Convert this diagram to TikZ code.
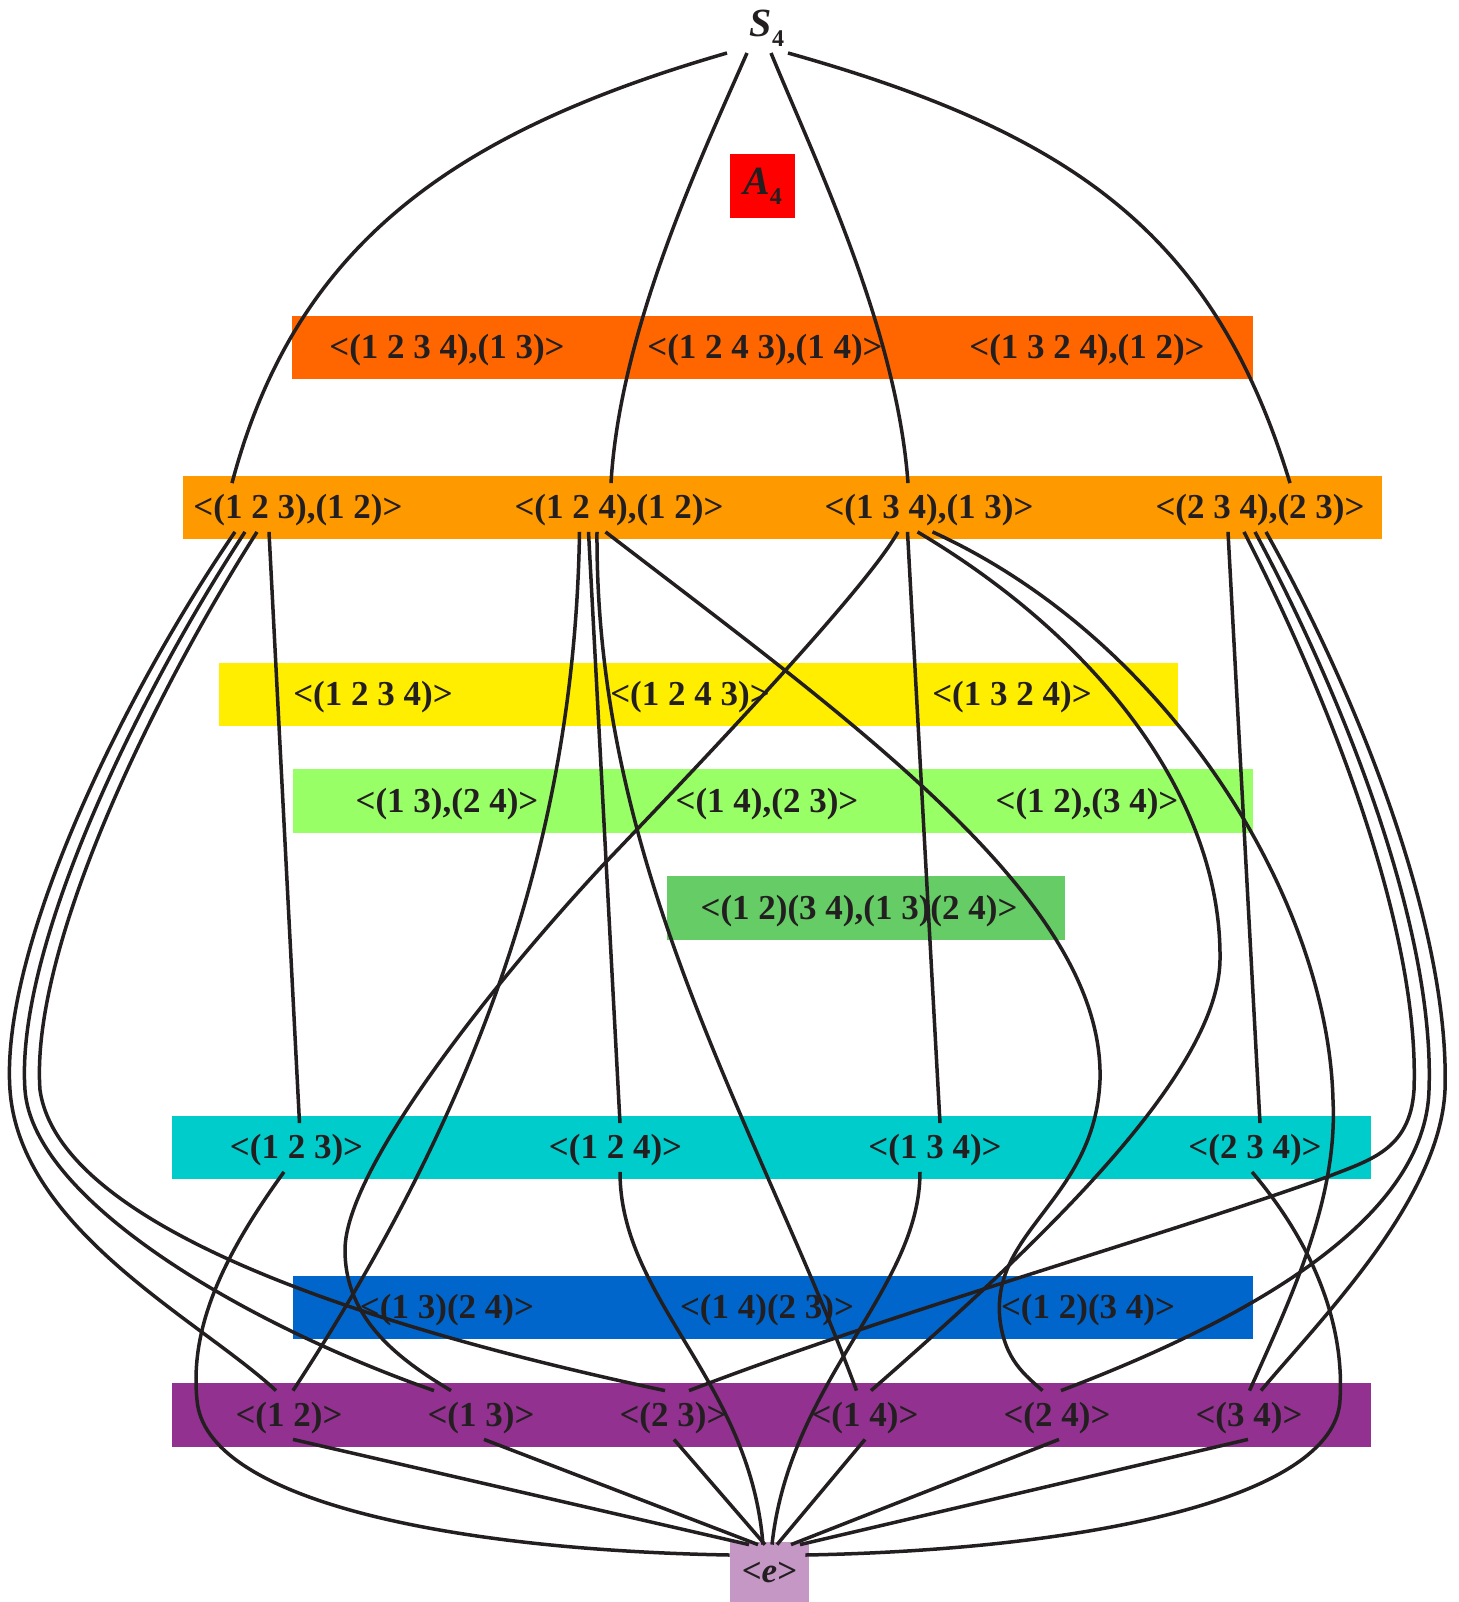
\documentclass[tikz,border=0pt]{standalone}
\usepackage{fontspec}
\setmainfont{Liberation Serif}
\usetikzlibrary{calc}
\definecolor{dorange}{HTML}{FF6600}
\definecolor{morange}{HTML}{FF9900}
\definecolor{yel}{HTML}{FFEE00}
\definecolor{lgreen}{HTML}{99FF66}
\definecolor{mgreen}{HTML}{66CC66}
\definecolor{cyanband}{HTML}{00CCCC}
\definecolor{blueband}{HTML}{0066CC}
\definecolor{purp}{HTML}{923190}
\definecolor{lpurp}{HTML}{C497C4}
\definecolor{ink}{HTML}{231F20}

\begin{document}
\begin{tikzpicture}[x=0.5pt, y=-0.5pt,
    grp/.style={font=\bfseries\fontsize{17.5}{20}\selectfont, text=ink, inner sep=0pt, text height=13pt, text depth=2pt, minimum height=24pt},
    conn/.style={draw=ink, line width=1.75pt}]
    \useasboundingbox (0,0) rectangle (1458,1602);

    \fill [dorange] (292,316) rectangle (1253,379);
    \fill [morange] (183,476) rectangle (1382,539);
    \fill [yel] (219,663) rectangle (1178,726);
    \fill [lgreen] (293,769) rectangle (1253,833);
    \fill [mgreen] (667,876) rectangle (1065,940);
    \fill [cyanband] (172,1116) rectangle (1371,1179);
    \fill [blueband] (293,1276) rectangle (1253,1339);
    \fill [purp] (172,1383) rectangle (1371,1447);

    \node [text=ink] (s4) at (767,28) {\bfseries\itshape\fontsize{20}{22}\selectfont S\raisebox{-5pt}{\upshape\fontsize{12}{12}\selectfont 4}};
    \node [fill=red, text=ink, inner sep=0pt, minimum width=32.5pt, minimum height=32pt] (a4) at (762.5,186) {\bfseries\itshape\fontsize{20}{22}\selectfont A\raisebox{-5pt}{\upshape\fontsize{12}{12}\selectfont 4}};

    \node [grp] (d8a) at (447,347.5) {<(1 2 3 4),(1 3)>};
    \node [grp] (d8b) at (765,347.5) {<(1 2 4 3),(1 4)>};
    \node [grp] (d8c) at (1087,347.5) {<(1 3 2 4),(1 2)>};

    \node [grp] (s3a) at (298,507.5) {<(1 2 3),(1 2)>};
    \node [grp] (s3b) at (619,507.5) {<(1 2 4),(1 2)>};
    \node [grp] (s3c) at (929,507.5) {<(1 3 4),(1 3)>};
    \node [grp] (s3d) at (1260,507.5) {<(2 3 4),(2 3)>};

    \node [grp] (c4a) at (373,694.5) {<(1 2 3 4)>};
    \node [grp] (c4b) at (690,694.5) {<(1 2 4 3)>};
    \node [grp] (c4c) at (1012,694.5) {<(1 3 2 4)>};

    \node [grp] (v4a) at (447,801) {<(1 3),(2 4)>};
    \node [grp] (v4b) at (767,801) {<(1 4),(2 3)>};
    \node [grp] (v4c) at (1087,801) {<(1 2),(3 4)>};

    \node [grp] (v4n) at (859,908) {<(1 2)(3 4),(1 3)(2 4)>};

    \node [grp] (c3a) at (296.5,1147.5) {<(1 2 3)>};
    \node [grp] (c3b) at (615.5,1147.5) {<(1 2 4)>};
    \node [grp] (c3c) at (935,1147.5) {<(1 3 4)>};
    \node [grp] (c3d) at (1255,1147.5) {<(2 3 4)>};

    \node [grp] (c2a) at (447,1307.5) {<(1 3)(2 4)>};
    \node [grp] (c2b) at (767,1307.5) {<(1 4)(2 3)>};
    \node [grp] (c2c) at (1088,1307.5) {<(1 2)(3 4)>};

    \node [grp] (t12) at (289,1415) {<(1 2)>};
    \node [grp] (t13) at (481,1415) {<(1 3)>};
    \node [grp] (t23) at (673,1415) {<(2 3)>};
    \node [grp] (t14) at (865,1415) {<(1 4)>};
    \node [grp] (t24) at (1057,1415) {<(2 4)>};
    \node [grp] (t34) at (1249,1415) {<(3 4)>};

    \node [fill=lpurp, text=ink, inner sep=0pt, minimum width=39.5pt, minimum height=30pt, font=\bfseries\fontsize{17.5}{20}\selectfont] (e) at (769.5,1572) {<\textit{e}>};

    \draw [conn] ($(s4)+(-40,25)$) .. controls (458,131) and (296,241) .. ($(s3a.north)+(-66,0)$);
    \draw [conn] ($(s4)+(-20,25)$) .. controls (700,160) and (620,330) .. ($(s3b.north)+(-8,0)$);
    \draw [conn] ($(s4)+(4,25)$) .. controls (815,160) and (897,330) .. ($(s3c.north)+(-21,0)$);
    \draw [conn] ($(s4)+(21,25)$) .. controls (1076,134) and (1215,236) .. ($(s3d.north)+(30,0)$);

    \draw [conn] ($(s3a.south)+(-29,0)$) -- ($(c3a.north)+(3,0)$);
    \draw [conn] ($(s3a.south)+(-63,0)$) .. controls (120,700) and (0,950) .. (10,1090) .. controls (20,1230) and (200,1320) .. ($(t12.north)+(-13,0)$);
    \draw [conn] ($(s3a.south)+(-53,0)$) .. controls (135,700) and (15,950) .. (25,1090) .. controls (33,1200) and (244,1324) .. ($(t13.north)+(-47,0)$);
    \draw [conn] ($(s3a.south)+(-41,0)$) .. controls (150,700) and (30,950) .. (40,1090) .. controls (60,1230) and (380,1330) .. ($(t23.north)+(-8,0)$);

    \draw [conn] ($(s3b.south)+(-39.5,0)$) .. controls (575,820) and (490,1090) .. ($(t12.north)+(4,0)$);
    \draw [conn] ($(s3b.south)+(-30.5,0)$) -- ($(c3b.north)+(4.5,0)$);
    \draw [conn] ($(s3b.south)+(-22,0)$) .. controls (595,870) and (760,1130) .. ($(t14.north)+(-8.5,0)$);
    \draw [conn] ($(s3b.south)+(-13.5,0)$) .. controls (850,720) and (1105,900) .. (1100,1080) .. controls (1095,1200) and (990,1230) .. (1000,1320) .. controls (1005,1360) and (1025,1375) .. ($(t24.north)+(-14.5,0)$);

    \draw [conn] ($(s3c.south)+(-31,0)$) .. controls (865,591) and (690,774) .. (604,864) .. controls (492,984) and (345,1170) .. (345,1250) .. controls (345,1320) and (400,1360) .. ($(t13.north)+(-30,0)$);
    \draw [conn] ($(s3c.south)+(-21.5,0)$) -- ($(c3c.north)+(5,0)$);
    \draw [conn] ($(s3c.south)+(-11.5,0)$) .. controls (1100,640) and (1222,800) .. (1220,960) .. controls (1218,1080) and (1020,1260) .. ($(t14.north)+(6,0)$);
    \draw [conn] ($(s3c.south)+(3.5,0)$) .. controls (1170,640) and (1328,900) .. (1333,1100) .. controls (1338,1200) and (1290,1300) .. ($(t34.north)+(0.5,0)$);

    \draw [conn] ($(s3d.south)+(-32,0)$) -- ($(c3d.north)+(5,0)$);
    \draw [conn] ($(s3d.south)+(-16,0)$) .. controls (1330,700) and (1420,930) .. (1414,1090) .. controls (1410,1150) and (1370,1160) .. (1327,1177) .. controls (1150,1240) and (900,1310) .. ($(t23.north)+(16,0)$);
    \draw [conn] ($(s3d.south)+(-5,0)$) .. controls (1345,700) and (1435,930) .. (1429,1090) .. controls (1425,1230) and (1220,1330) .. ($(t24.north)+(4,0)$);
    \draw [conn] ($(s3d.south)+(6,0)$) .. controls (1360,700) and (1450,930) .. (1445,1090) .. controls (1440,1200) and (1320,1320) .. ($(t34.north)+(12,0)$);

    \draw [conn] ($(c3a.south)+(-12.5,0)$) .. controls (220,1260) and (190,1330) .. (197,1400) .. controls (205,1500) and (450,1550) .. ($(e.west)+(0,-17)$);
    \draw [conn] ($(c3b.south)+(4.5,0)$) .. controls (620,1300) and (750,1380) .. ($(e.north)+(-6.5,3)$);
    \draw [conn] ($(c3c.south)+(-15,0)$) .. controls (920,1290) and (790,1380) .. ($(e.north)+(2.5,3)$);
    \draw [conn] ($(c3d.south)+(-3,0)$) .. controls (1310,1240) and (1345,1320) .. (1340,1400) .. controls (1335,1500) and (1080,1550) .. ($(e.east)+(-4,-17)$);

    \draw [conn] ($(t12.south)+(4,0)$) -- ($(e.north)+(-20.5,3)$);
    \draw [conn] ($(t13.south)+(3,0)$) -- ($(e.north)+(-11.5,3)$);
    \draw [conn] ($(t23.south)+(1,0)$) -- ($(e.north)+(-4.5,3)$);
    \draw [conn] (t14.south) -- ($(e.north)+(7.5,3)$);
    \draw [conn] ($(t24.south)+(2,0)$) -- ($(e.north)+(21.5,3)$);
    \draw [conn] ($(t34.south)+(-1,0)$) -- ($(e.north)+(30.5,3)$);
\end{tikzpicture}
\end{document}
